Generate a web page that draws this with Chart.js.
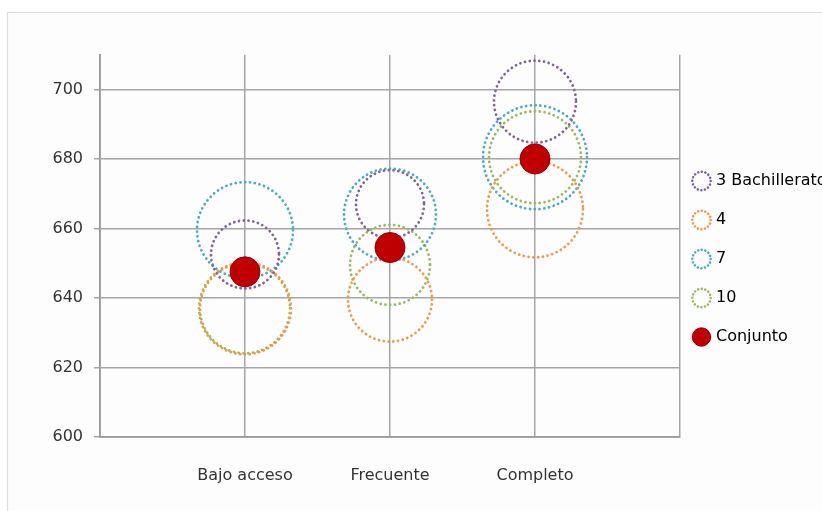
<!DOCTYPE html>
<html>
<head>
<meta charset="utf-8">
<script src="https://cdn.jsdelivr.net/npm/chart.js@4/dist/chart.umd.min.js"></script>
<style>
  html, body { margin: 0; padding: 0; background: #ffffff; }
  #wrap { width: 822px; height: 511px; position: relative; }
</style>
</head>
<body>
<div id="wrap"><canvas id="c" width="822" height="511"></canvas></div>
<script>
// ---- data ----
const categories = ["Bajo acceso", "Frecuente", "Completo"];
const seriesNames = ["3 Bachillerato", "4", "7", "10", "Conjunto"];
const values3 = [652.5, 667, 696.5];
const values4 = [637, 639.5, 665.5];
const values7 = [659.5, 664, 680.5];
const values10 = [637, 649.5, 680.5];
const valuesConjunto = [647.5, 654.5, 680];
// bubble sizes (as drawn)
const sizes3 = [34, 34, 41];
const sizes4 = [46, 42, 48];
const sizes7 = [48, 46, 52];
const sizes10 = [45, 40, 46];
const sizesConjunto = [15, 15, 15];
const yTicks = [600, 620, 640, 660, 680, 700];

const colors = ["#8064a2", "#f79646", "#4bacc6", "#9bbb59", "#c00000"];

function toPoints(vals, sizes) {
  return vals.map((v, i) => ({ x: i + 1, y: v, r: sizes[i] }));
}

const allVals = [values3, values4, values7, values10, valuesConjunto];
const allSizes = [sizes3, sizes4, sizes7, sizes10, sizesConjunto];

const datasets = seriesNames.map((name, i) => {
  const isConj = i === 4;
  return {
    label: name,
    data: toPoints(allVals[i], allSizes[i]),
    backgroundColor: isConj ? colors[i] : "rgba(0,0,0,0)",
    borderColor: isConj ? "#9a0000" : colors[i],
    borderWidth: isConj ? 1 : 2.8,
    hoverRadius: 0,
    dotted: !isConj,
    order: isConj ? 0 : 1,
    clip: false
  };
});

const LEGEND_DX = -8, LEGEND_DY = -20;

const dottedPlugin = {
  id: "dotted",
  afterInit(chart) {
    const lg = chart.legend;
    if (lg) {
      const origFit = lg.fit;
      lg.fit = function () {
        origFit.call(this);
        this.width = 142;
      };
      const origDraw = lg.draw;
      lg.draw = function () {
        this.left += LEGEND_DX;
        this.top += LEGEND_DY; this.bottom += LEGEND_DY;
        origDraw.apply(this, arguments);
        this.left -= LEGEND_DX;
        this.top -= LEGEND_DY; this.bottom -= LEGEND_DY;
      };
    }
  },
  beforeDatasetDraw(chart, args) {
    const ds = chart.data.datasets[args.index];
    const ctx = chart.ctx;
    ctx.save();
    if (ds.dotted) {
      ctx.setLineDash([0.01, 4.8]);
      ctx.lineCap = "round";
    }
  },
  afterDatasetDraw(chart) {
    chart.ctx.restore();
  }
};

const framePlugin = {
  id: "frame",
  beforeDraw(chart) {
    const ctx = chart.ctx;
    ctx.save();
    ctx.fillStyle = "#ffffff";
    ctx.fillRect(0, 0, chart.width, chart.height);
    ctx.fillStyle = "#fdfdfd";
    ctx.fillRect(7, 12, chart.width - 7, chart.height - 12);
    ctx.strokeStyle = "#dcdcdc";
    ctx.lineWidth = 1.2;
    ctx.beginPath();
    ctx.moveTo(7.5, chart.height);
    ctx.lineTo(7.5, 12.5);
    ctx.lineTo(chart.width, 12.5);
    ctx.stroke();
    ctx.restore();
  }
};

const labelFont = { family: "DejaVu Sans", size: 16 };

new Chart(document.getElementById("c"), {
  type: "bubble",
  data: { datasets },
  plugins: [framePlugin, dottedPlugin],
  options: {
    responsive: false,
    animation: false,
    events: [],
    layout: { padding: { top: 47, bottom: 0, left: 0, right: 0 } },
    scales: {
      x: {
        type: "linear",
        min: 0,
        max: categories.length + 1,
        afterBuildTicks(scale) {
          const t = [];
          for (let i = 0; i <= categories.length + 1; i++) t.push({ value: i });
          scale.ticks = t;
        },
        afterFit(scale) { scale.height -= 3; },
        ticks: {
          padding: 29,
          color: "#333333",
          font: labelFont,
          maxRotation: 0,
          autoSkip: false,
          callback: (v) => (v >= 1 && v <= categories.length ? categories[v - 1] : "")
        },
        grid: { color: "#a6a6a6", lineWidth: 1.5, drawTicks: false },
        border: { color: "#9a9a9a", width: 1.8 }
      },
      y: {
        min: 600,
        max: 710,
        afterBuildTicks(scale) {
          scale.ticks = yTicks.map((v) => ({ value: v }));
        },
        afterFit(scale) { scale.width = 100; },
        ticks: {
          padding: 11,
          color: "#333333",
          font: labelFont
        },
        grid: { color: "#a6a6a6", lineWidth: 1.5, tickLength: 6 },
        border: { color: "#9a9a9a", width: 1.8 }
      }
    },
    plugins: {
      tooltip: { enabled: false },
      legend: {
        position: "right",
        labels: {
          usePointStyle: true,
          boxWidth: 13,
          boxHeight: 13,
          padding: 23,
          color: "#262626",
          font: { family: "DejaVu Sans", size: 16 },
          generateLabels(chart) {
            return chart.data.datasets.map((ds, i) => ({
              text: ds.label,
              fillStyle: ds.backgroundColor,
              strokeStyle: ds.borderColor,
              lineWidth: ds.dotted ? 2.6 : 1,
              lineDash: ds.dotted ? [0.01, 3.6] : [],
              lineCap: "round",
              pointStyle: "circle",
              hidden: false,
              datasetIndex: i
            }));
          }
        }
      }
    }
  }
});
</script>
</body>
</html>
